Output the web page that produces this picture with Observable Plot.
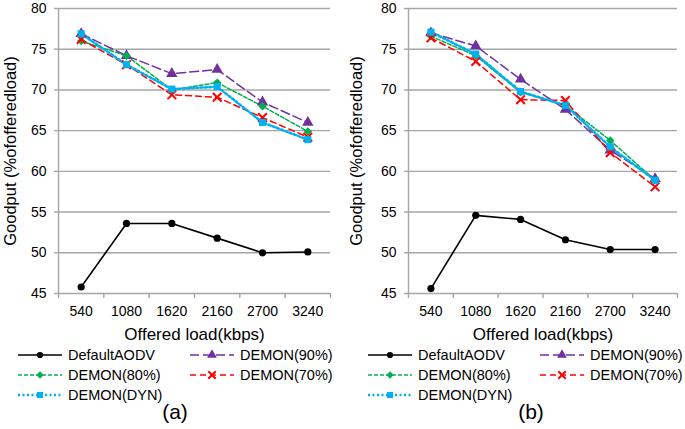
<!DOCTYPE html>
<html><head><meta charset="utf-8">
<script src="https://cdn.jsdelivr.net/npm/d3@7"></script>
<script src="https://cdn.jsdelivr.net/npm/@observablehq/plot@0.6"></script>
<style>
body{margin:0;background:#fff;font-family:"Liberation Sans",Arial,sans-serif;}
#root{position:relative;width:685px;height:429px;overflow:hidden;background:#fff;}
.panel{position:absolute;top:0;}
.leg{position:absolute;display:flex;align-items:center;font-size:14.5px;white-space:nowrap;color:#000;transform:translateY(-50%);}
.leg svg{margin-right:6px;}
.cap{position:absolute;font-size:21px;transform:translate(-50%,-50%);color:#000;}
</style></head>
<body><div id="root"></div>
<script>
// ---- data ----
const loads = [540, 1080, 1620, 2160, 2700, 3240];
const seriesNames = ["DefaultAODV", "DEMON(90%)", "DEMON(80%)", "DEMON(70%)", "DEMON(DYN)"];
const yTicks = [45, 50, 55, 60, 65, 70, 75, 80];

// panel (a)
const aDefault = [45.8, 53.6, 53.6, 51.8, 50.0, 50.1];
const a90 = [76.9, 74.2, 72.0, 72.5, 68.5, 66.0];
const a80 = [76.0, 74.2, 70.0, 70.9, 68.0, 64.9];
const a70 = [76.2, 73.1, 69.4, 69.1, 66.6, 64.2];
const aDyn = [76.9, 73.1, 70.1, 70.4, 66.0, 63.9];

// panel (b)
const bDefault = [45.6, 54.6, 54.1, 51.6, 50.4, 50.4];
const b90 = [77.0, 75.4, 71.3, 67.6, 62.6, 59.1];
const b80 = [76.6, 74.2, 69.7, 68.1, 63.8, 58.9];
const b70 = [76.4, 73.5, 68.8, 68.7, 62.3, 58.1];
const bDyn = [77.1, 74.4, 69.8, 68.1, 63.0, 58.9];

// ---- styles ----
const seriesStyle = {
  "DefaultAODV": {color: "#000000", dash: null, width: 1.6, symbol: "circle", r: 3.6, strokeSym: false},
  "DEMON(90%)": {color: "#7030a0", dash: "9,4", width: 1.5, symbol: "triangle", r: 4.2, strokeSym: false},
  "DEMON(80%)": {color: "#00b050", dash: "4,2", width: 1.5, symbol: "diamond2", r: 3.8, strokeSym: false},
  "DEMON(70%)": {color: "#ff0000", dash: "6,4", width: 1.5, symbol: "times", r: 4, strokeSym: true},
  "DEMON(DYN)": {color: "#00b0f0", dash: "2,2.5", width: 2.6, symbol: "square", r: 4, strokeSym: false}
};
const FONT = '"Liberation Sans", Arial, sans-serif';
const GRID = "#a6a6a6";

function makePlot(vals, ml, mr, yLabelOffset) {
  const rows = seriesNames.flatMap((s, i) => loads.map((l, j) => ({series: s, load: l, value: vals[i][j]})));
  const step = loads[1] - loads[0];
  const bounds = loads.map(l => l - step / 2).concat([loads[loads.length - 1] + step / 2]);
  const marks = [
    Plot.gridY(yTicks, {stroke: GRID, strokeOpacity: 1, strokeWidth: 1.4}),
    Plot.axisY(yTicks, {tickSize: 4, stroke: GRID, strokeWidth: 1.4, tickPadding: 8, fontSize: 14,
      label: "Goodput (%ofofferedload)", labelAnchor: "center", labelOffset: yLabelOffset, labelArrow: "none"}),
    Plot.ruleX([bounds[0]], {stroke: GRID, strokeWidth: 1.4}),
    Plot.axisX(bounds, {tickSize: 5, stroke: GRID, strokeWidth: 1.4, tickFormat: () => "", label: null}),
    Plot.axisX(loads, {tickSize: 0, tickPadding: 13, fontSize: 14, tickFormat: d => String(d),
      label: "Offered load(kbps)", labelAnchor: "center", labelOffset: 46, labelArrow: "none"})
  ];
  for (const s of seriesNames) {
    const st = seriesStyle[s];
    const data = rows.filter(d => d.series === s);
    marks.push(Plot.line(data, {x: "load", y: "value", stroke: st.color, strokeWidth: st.width,
      strokeDasharray: st.dash}));
  }
  for (const s of seriesNames) {
    const st = seriesStyle[s];
    const data = rows.filter(d => d.series === s);
    marks.push(Plot.dot(data, st.strokeSym
      ? {x: "load", y: "value", symbol: () => st.symbol, r: st.r, stroke: st.color, strokeWidth: 2}
      : {x: "load", y: "value", symbol: () => st.symbol, r: st.r, fill: st.color, stroke: "none"}));
  }
  const svg = Plot.plot({
    width: 343, height: 345, marginLeft: ml, marginRight: mr, marginTop: 8, marginBottom: 52,
    style: {fontFamily: FONT, fontSize: "14px", color: "#000", background: "transparent", overflow: "visible"},
    x: {domain: [bounds[0], bounds[bounds.length - 1]]},
    y: {domain: [45, 80]},
    symbol: {type: "identity"},
    marks
  });
  svg.querySelectorAll('[aria-label="y-axis label"] text').forEach(t => { t.style.fontSize = "16.5px"; });
  svg.querySelectorAll('[aria-label="x-axis label"] text').forEach(t => { t.style.fontSize = "17px"; });
  return svg;
}

function swatch(s) {
  const st = seriesStyle[s];
  const ns = "http://www.w3.org/2000/svg";
  const svg = document.createElementNS(ns, "svg");
  svg.setAttribute("width", 44); svg.setAttribute("height", 14);
  const line = document.createElementNS(ns, "line");
  line.setAttribute("x1", 0); line.setAttribute("x2", 44); line.setAttribute("y1", 7); line.setAttribute("y2", 7);
  line.setAttribute("stroke", st.color); line.setAttribute("stroke-width", st.width);
  if (st.dash) line.setAttribute("stroke-dasharray", st.dash);
  svg.appendChild(line);
  const symMap = {circle: d3.symbolCircle, triangle: d3.symbolTriangle, diamond2: d3.symbolDiamond2, times: d3.symbolTimes, square: d3.symbolSquare};
  const p = document.createElementNS(ns, "path");
  p.setAttribute("d", d3.symbol(symMap[st.symbol], Math.PI * st.r * st.r * 0.75)());
  p.setAttribute("transform", "translate(22,7)");
  if (st.strokeSym) { p.setAttribute("fill", "none"); p.setAttribute("stroke", st.color); p.setAttribute("stroke-width", 2); }
  else p.setAttribute("fill", st.color);
  svg.appendChild(p);
  return svg;
}

const root = document.getElementById("root");
const panels = [
  {vals: [aDefault, a90, a80, a70, aDyn], left: 0, ml: 58, mr: 13, lo: 54, legX: 18, cap: "(a)", capX: 175},
  {vals: [bDefault, b90, b80, b70, bDyn], left: 342, ml: 66, mr: 8, lo: 58, legX: 368, cap: "(b)", capX: 531}
];
const legendLayout = [
  {s: "DefaultAODV", col: 0, row: 0}, {s: "DEMON(90%)", col: 1, row: 0},
  {s: "DEMON(80%)", col: 0, row: 1}, {s: "DEMON(70%)", col: 1, row: 1},
  {s: "DEMON(DYN)", col: 0, row: 2}
];
for (const p of panels) {
  const div = document.createElement("div");
  div.className = "panel"; div.style.left = p.left + "px";
  div.appendChild(makePlot(p.vals, p.ml, p.mr, p.lo));
  root.appendChild(div);
  for (const it of legendLayout) {
    const el = document.createElement("div");
    el.className = "leg";
    el.style.left = (p.legX + it.col * 172) + "px";
    el.style.top = (355 + it.row * 20) + "px";
    el.appendChild(swatch(it.s));
    el.appendChild(document.createTextNode(it.s));
    root.appendChild(el);
  }
  const cap = document.createElement("div");
  cap.className = "cap"; cap.style.left = p.capX + "px"; cap.style.top = "412px";
  cap.textContent = p.cap;
  root.appendChild(cap);
}
</script></body></html>
